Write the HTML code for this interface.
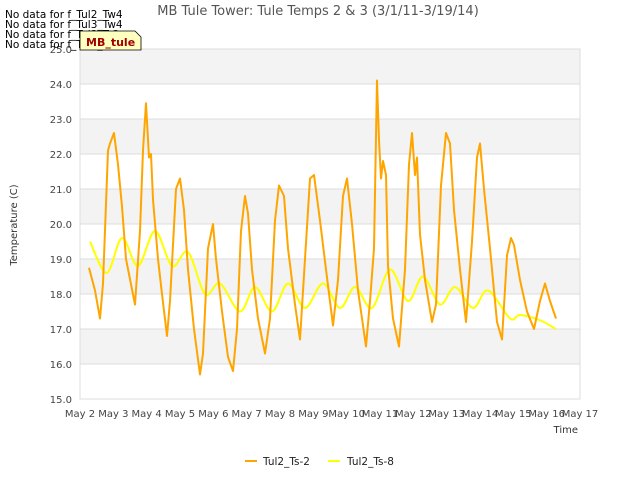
<!DOCTYPE html>
<html><head><meta charset="utf-8"><style>
body{margin:0;background:#fff;}
svg text{font-family:"DejaVu Sans","Liberation Sans",sans-serif;}
</style></head><body>
<svg id="chart" width="640" height="480" viewBox="0 0 640 480" xmlns="http://www.w3.org/2000/svg">
<rect width="640" height="480" fill="#fff"/>
<g id="bands"></g>
<g id="grid"></g>
<rect x="80" y="49" width="500" height="350" fill="none" stroke="#ddd" stroke-width="1"/>
<g id="yticks"></g>
<g id="xticks"></g>
<g id="series"></g>
<text x="318" y="15" text-anchor="middle" font-size="13" fill="#555">MB Tule Tower: Tule Temps 2 &amp; 3 (3/1/11-3/19/14)</text>
<text x="17" y="225" text-anchor="middle" font-size="10" fill="#333" transform="rotate(-90 17 225)">Temperature (C)</text>
<text x="578" y="433" text-anchor="end" font-size="10" fill="#333">Time</text>
<g font-size="10.5" fill="#000">
<text x="5" y="18">No data for f_Tul2_Tw4</text>
<text x="5" y="28">No data for f_Tul3_Tw4</text>
<text x="5" y="38">No data for f_Tul3_Ts2</text>
<text x="5" y="48">No data for f_Tul3_Ts8</text>
</g>
<g>
<path d="M80 31 H135 L141 37 V50 H80 Z" fill="#ffffc0" stroke="#000" stroke-width="0.8"/>
<text x="86" y="46" font-size="11" font-weight="bold" fill="#a00000">MB_tule</text>
</g>
<g>
<line x1="245" y1="461" x2="257" y2="461" stroke="#ffa500" stroke-width="2"/>
<text x="263" y="465" font-size="10.5" fill="#222">Tul2_Ts-2</text>
<line x1="328" y1="461" x2="340" y2="461" stroke="#ffff00" stroke-width="2"/>
<text x="347" y="465" font-size="10.5" fill="#222">Tul2_Ts-8</text>
</g>
</svg>
<script>
const yTicks=[15,16,17,18,19,20,21,22,23,24,25];
const xTickLabels=["May 2","May 3","May 4","May 5","May 6","May 7","May 8","May 9","May 10","May 11","May 12","May 13","May 14","May 15","May 16","May 17"];
const ts2Days=[0.27,0.45,0.6,0.69,0.84,0.9,1.02,1.14,1.26,1.38,1.65,1.8,1.89,1.98,2.07,2.13,2.19,2.34,2.46,2.61,2.7,2.88,3.0,3.12,3.24,3.42,3.6,3.69,3.84,3.99,4.08,4.26,4.44,4.59,4.71,4.83,4.95,5.04,5.16,5.34,5.55,5.7,5.85,5.97,6.12,6.24,6.45,6.6,6.75,6.9,7.02,7.2,7.38,7.59,7.74,7.89,8.01,8.16,8.34,8.58,8.7,8.82,8.91,8.97,9.03,9.09,9.18,9.24,9.39,9.57,9.75,9.87,9.96,10.05,10.11,10.2,10.35,10.56,10.68,10.83,10.98,11.1,11.22,11.4,11.58,11.76,11.91,12.0,12.12,12.3,12.51,12.66,12.81,12.93,13.02,13.2,13.41,13.62,13.8,13.95,14.1,14.28];
const ts2Vals=[18.75,18.1,17.3,18.3,22.1,22.3,22.6,21.7,20.5,19.0,17.7,19.8,22.1,23.45,21.9,22.0,20.7,19.0,18.0,16.8,17.8,21.0,21.3,20.4,18.7,17.0,15.7,16.3,19.3,20.0,19.0,17.5,16.2,15.8,17.0,19.8,20.8,20.3,18.7,17.3,16.3,17.3,20.1,21.1,20.8,19.3,17.7,16.7,19.0,21.3,21.4,20.1,18.7,17.1,18.4,20.8,21.3,20.0,18.1,16.5,17.8,19.3,24.1,22.4,21.3,21.8,21.4,18.8,17.3,16.5,18.7,21.7,22.6,21.4,21.9,19.7,18.4,17.2,17.7,21.1,22.6,22.3,20.4,18.7,17.2,19.5,21.9,22.3,21.0,19.3,17.2,16.7,19.1,19.6,19.4,18.4,17.5,17.0,17.8,18.3,17.8,17.3];
const ts8Days=[0.3,0.8,1.26,1.74,2.25,2.76,3.24,3.75,4.2,4.8,5.25,5.76,6.24,6.75,7.29,7.8,8.25,8.76,9.3,9.84,10.29,10.8,11.25,11.79,12.24,12.9,13.2,13.8,14.28];
const ts8Vals=[19.5,18.6,19.6,18.8,19.8,18.8,19.2,18.0,18.3,17.5,18.2,17.5,18.3,17.6,18.3,17.6,18.2,17.6,18.7,17.8,18.5,17.7,18.2,17.6,18.1,17.3,17.4,17.25,17.0];

const NS="http://www.w3.org/2000/svg";
const X0=80,X1=580,Y0=399,Y1=49;
const xScale=d=>X0+d*(X1-X0)/15;
const yScale=v=>Y0-(v-15)*(Y0-Y1)/10;
function mk(tag,attrs,parent){const e=document.createElementNS(NS,tag);for(const k in attrs)e.setAttribute(k,attrs[k]);parent.appendChild(e);return e;}
const bands=document.getElementById('bands'),grid=document.getElementById('grid'),yt=document.getElementById('yticks'),xt=document.getElementById('xticks'),ser=document.getElementById('series');
for(let i=0;i<yTicks.length-1;i++){
  if(i%2===1){const r=mk('rect',{x:X0,y:yScale(yTicks[i+1]),width:X1-X0,height:yScale(yTicks[i])-yScale(yTicks[i+1]),fill:'#f3f3f3'},bands);
  
  }
}
yTicks.forEach(v=>{
  const l=mk('line',{x1:X0,x2:X1,y1:yScale(v),y2:yScale(v),stroke:'#dcdcdc','stroke-width':1},grid);
  
  
  const t=mk('text',{x:X0-8,y:yScale(v)+4,'text-anchor':'end','font-size':10,fill:'#444'},yt);
  t.textContent=v.toFixed(1);
  
  
});
xTickLabels.forEach((s,i)=>{
  const t=mk('text',{x:xScale(i),y:417,'text-anchor':'middle','font-size':10,fill:'#444'},xt);
  t.textContent=s;
  
  
});
function smoothPath(px,py){
  let d=`M${px[0]},${py[0]}`;
  for(let i=0;i<px.length-1;i++){
    const p0=i>0?i-1:i,p3=i+2<px.length?i+2:i+1;
    const c1x=px[i]+(px[i+1]-px[p0])/6,c1y=py[i]+(py[i+1]-py[p0])/6;
    const c2x=px[i+1]-(px[p3]-px[i])/6,c2y=py[i+1]-(py[p3]-py[i])/6;
    d+=` C${c1x},${c1y} ${c2x},${c2y} ${px[i+1]},${py[i+1]}`;
  }
  return d;
}
const p8=mk('path',{d:smoothPath(ts8Days.map(xScale),ts8Vals.map(yScale)),fill:'none',stroke:'#ffff00','stroke-width':2},ser);


const p2=mk('path',{d:ts2Days.map((d,i)=>(i?'L':'M')+xScale(d)+','+yScale(ts2Vals[i])).join(' '),fill:'none',stroke:'#ffa500','stroke-width':2,'stroke-linejoin':'round'},ser);


</script>
</body></html>
